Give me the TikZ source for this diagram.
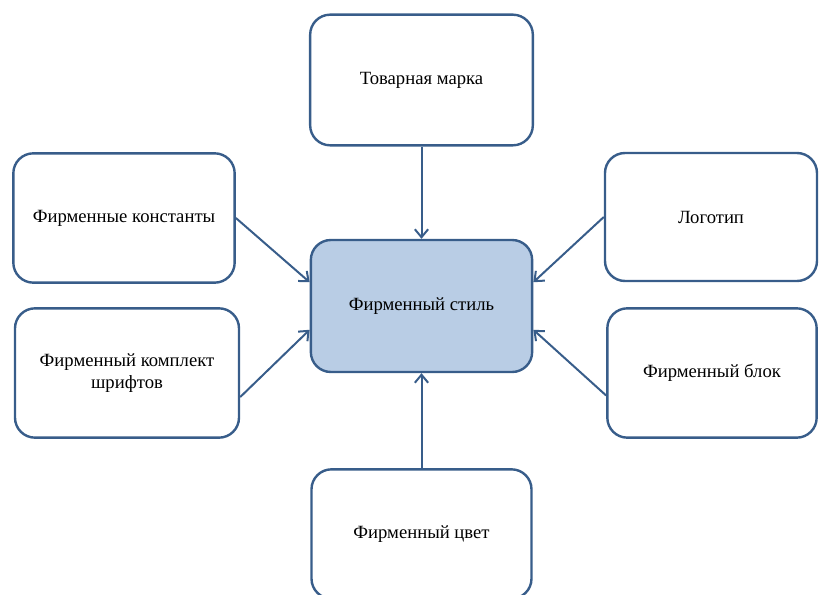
\documentclass[tikz,border=0pt]{standalone}
\usepackage{fontspec}
\setmainfont{Liberation Serif}
\usetikzlibrary{arrows.meta}
\definecolor{rimblue}{RGB}{56,93,138}
\definecolor{stilfill}{RGB}{185,205,229}
\tikzset{
  elembox/.style={draw=rimblue, line width=1.8pt, rounded corners=15pt, fill=white,
    align=center, font=\fontsize{14}{17}\selectfont},
  pointer/.style={draw=rimblue, line width=1.5pt, -{Straight Barb[length=6pt,width=10pt]}}
}
\begin{document}
\begin{tikzpicture}[x=0.75pt,y=-0.75pt]
\useasboundingbox (0,0) rectangle (819,595);
%\draw [help lines, step=50] (0,0) grid (819,595);
\node (tovar) [elembox, minimum width=167pt, minimum height=98pt] at (421.5,80) {Товарная марка};
\node (konst) [elembox, minimum width=166pt, minimum height=97pt] at (124,218) {Фирменные константы};
\node (shrift) [elembox, minimum width=168pt, minimum height=97pt] at (127,373) {Фирменный комплект\\шрифтов};
\node (logo) [elembox, minimum width=159pt, minimum height=96pt] at (711,217) {Логотип};
\node (blok) [elembox, minimum width=157pt, minimum height=97pt] at (712,373) {Фирменный блок};
\node (tsvet) [elembox, minimum width=165pt, minimum height=97pt] at (421.5,534) {Фирменный цвет};
\node (stil) [elembox, fill=stilfill, minimum width=166pt, minimum height=99pt] at (421.5,306) {Фирменный стиль};
\draw [pointer] (tovar.south) -- (stil.north);
\draw [pointer] (konst.east) -- (stil.168);
\draw [pointer] (shrift.-12) -- (stil.192);
\draw [pointer] (logo.west) -- (stil.12);
\draw [pointer] (blok.192) -- (stil.-12);
\draw [pointer] (tsvet.north) -- (stil.south);
\end{tikzpicture}
\end{document}
